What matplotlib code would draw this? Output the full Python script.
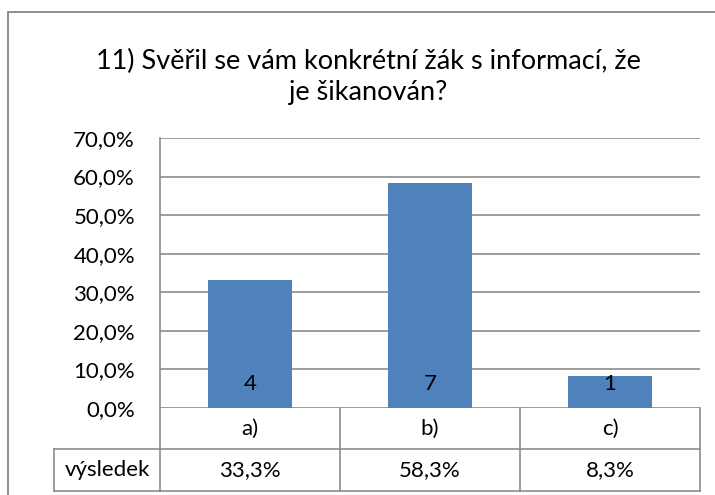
import matplotlib
matplotlib.use('Agg')
import matplotlib.pyplot as plt
import matplotlib.transforms as mtransforms
from matplotlib.patches import Rectangle

plt.rcParams['font.family'] = ['Lato', 'DejaVu Sans']

# data
categories = ['a)', 'b)', 'c)']
values = [33.3, 58.3, 8.3]  # procenta
counts = [4, 7, 1]  # počet odpovědí
row_label = 'výsledek'
title = '11) Svěřil se vám konkrétní žák s informací, že\nje šikanován?'


def pct(v):
    return ('%.1f%%' % v).replace('.', ',')


W, H = 715, 495
fig = plt.figure(figsize=(W / 100, H / 100), dpi=100, facecolor='white')

# ramecek grafu
fig.patches.append(Rectangle((8 / W, -0.1), 1.2, (H - 12) / H + 0.1, transform=fig.transFigure,
                             fill=False, edgecolor='#868686', linewidth=1.3))

ax = fig.add_axes([160 / W, (H - 408) / H, (700 - 160) / W, (408 - 138) / H])
x = list(range(len(categories)))
ax.bar(x, values, width=0.47, color='#4F81BD', zorder=3)
ax.set_xlim(-0.5, len(categories) - 0.5)
ax.set_ylim(0, 70)
ax.set_yticks(range(0, 71, 10))
ax.set_yticklabels([pct(v) for v in range(0, 71, 10)])
ax.yaxis.set_tick_params(length=0, pad=18, labelsize=16)
ax.set_xticks([])
ax.grid(axis='y', color='#8c8c8c', linewidth=1.2, zorder=0)
for s in ['top', 'right', 'bottom']:
    ax.spines[s].set_visible(False)
ax.spines['left'].set_color('#8c8c8c')
ax.spines['left'].set_linewidth(1.2)

for xi, c in zip(x, counts):
    ax.annotate(str(c), (xi, 0), xytext=(0, 10), textcoords='offset points',
                ha='center', va='bottom', fontsize=16, zorder=4)

# tabulka s daty
tr = mtransforms.blended_transform_factory(ax.transData, fig.transFigure)
y0, y1, y2 = (H - 408) / H, (H - 449) / H, (H - 491) / H
lc = '#8c8c8c'
n = len(categories)
for yy in [y1, y2]:
    ax.plot([-0.5, n - 0.5], [yy, yy], color=lc, lw=1.2, transform=tr, clip_on=False)
for i in range(n + 1):
    ax.plot([i - 0.5, i - 0.5], [y0, y2], color=lc, lw=1.2, transform=tr, clip_on=False)
for xi, cat, v in zip(x, categories, values):
    ax.text(xi, (y0 + y1) / 2, cat, ha='center', va='center', fontsize=16, transform=tr)
    ax.text(xi, (y1 + y2) / 2, pct(v), ha='center', va='center', fontsize=16, transform=tr)

# bunka s popiskem radku
fig.add_artist(plt.Line2D([54 / W, 160 / W], [y1, y1], color=lc, lw=1.2))
fig.add_artist(plt.Line2D([54 / W, 160 / W], [y2, y2], color=lc, lw=1.2))
fig.add_artist(plt.Line2D([54 / W, 54 / W], [y1, y2], color=lc, lw=1.2))
fig.text(107 / W, (y1 + y2) / 2, row_label, ha='center', va='center', fontsize=16)

fig.text(368 / W, (H - 77) / H, title, ha='center', va='center', fontsize=19.5, linespacing=1.3)

fig.savefig('out.png', dpi=100)
